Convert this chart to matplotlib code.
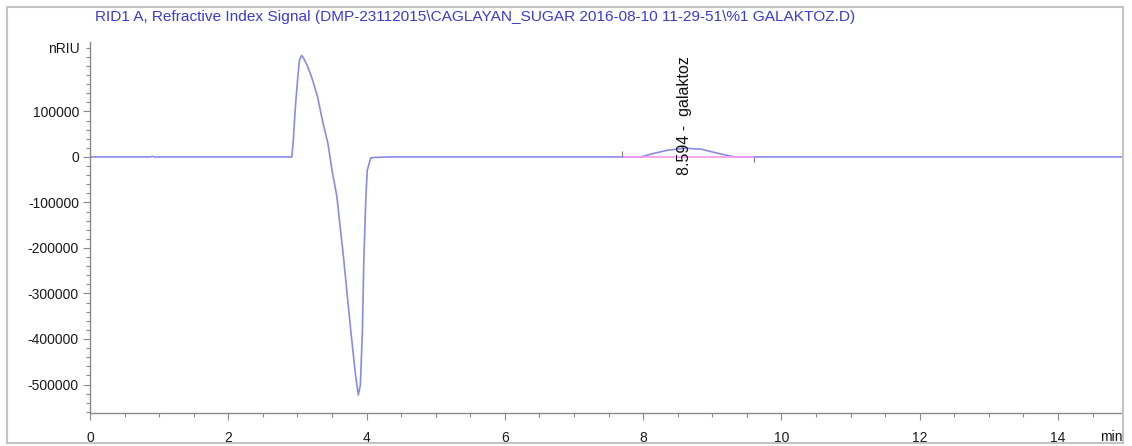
import matplotlib.pyplot as plt
import numpy as np
from matplotlib.ticker import MultipleLocator
from matplotlib.patches import Rectangle

plt.rcParams['font.family'] = ['Liberation Sans', 'DejaVu Sans']
plt.rcParams['axes.unicode_minus'] = False

# RID signal, time in min, signal in nRIU
time = [0.0, 0.87, 0.9, 0.93, 2.0, 2.88, 2.92, 2.94, 2.97, 3.01, 3.03, 3.06, 3.09,
        3.15, 3.21, 3.29, 3.36, 3.44, 3.50, 3.57, 3.67, 3.77, 3.84, 3.88, 3.91,
        3.94, 3.96, 3.99, 4.01, 4.06, 4.13, 4.35, 6.0, 7.97, 8.12, 8.36, 8.62,
        8.84, 9.08, 9.32, 11.0, 15.0]
signal = [0, 0, 1500, 0, 0, 0, 0, 37000, 110000, 184000, 213000, 223000, 217000,
          198000, 173000, 133000, 81000, 30000, -29000, -87000, -226000, -380000,
          -479000, -523000, -501000, -380000, -226000, -87000, -29000, -2000,
          -1000, 0, 0, 0, 6600, 15000, 19000, 17000, 8000, 0, 0, 0]

# integration baseline and event marks of the peak
base_t = [7.69, 9.60]
base_v = [0, 0]
event_t = [7.69, 9.60]
event_lo = [0, -11000]
event_hi = [13000, 0]

peak_rt = 8.594
peak_name = 'galaktoz'

y_major = [-500000, -400000, -300000, -200000, -100000, 0, 100000]

fig = plt.figure(figsize=(11.32, 4.46), dpi=100)
ax = fig.add_axes([0.0795, 0.074, 0.912, 0.832])

ax.plot(time, signal, color='#8a8ae8', lw=1.2)
ax.plot(base_t, base_v, color='#f29af2', lw=1.2)
ax.vlines(event_t, event_lo, event_hi, color='#777777', lw=0.8)

ax.text(peak_rt, -40000, f'{peak_rt:.3f} -  {peak_name}', rotation=90,
        ha='center', va='bottom', fontsize=11.5, color='#111111')

ax.set_xlim(0, 14.93)
ax.set_ylim(-562600, 252700)
ax.set_yticks(y_major)
ax.set_xticks(range(0, 15, 2))
ax.xaxis.set_minor_locator(MultipleLocator(0.5))
ax.yaxis.set_minor_locator(MultipleLocator(20000))

for side in ['top', 'right']:
    ax.spines[side].set_visible(False)
for side in ['left', 'bottom']:
    ax.spines[side].set_color('#8a8a8a')
    ax.spines[side].set_linewidth(1.0)
ax.tick_params(which='major', length=5, width=0.8, color='#8a8a8a',
               labelsize=10, labelcolor='#1a1a1a')
ax.tick_params(axis='y', which='major', pad=3)
ax.tick_params(axis='x', which='major', pad=8)
ax.tick_params(which='minor', length=3, width=0.8, color='#8a8a8a')

ax.text(-0.01, 0.982, 'nRIU', transform=ax.transAxes, ha='right', va='center',
        fontsize=10, color='#1a1a1a')
fig.text(1123 / 1132, 1 - 437 / 446, 'min', ha='right', va='center',
         fontsize=10, color='#1a1a1a')

fig.text(95 / 1132, 1 - 17 / 446,
         r'RID1 A, Refractive Index Signal (DMP-23112015\CAGLAYAN_SUGAR 2016-08-10 11-29-51\%1 GALAKTOZ.D)',
         ha='left', va='center', fontsize=11.1, color='#3a3ad6')

fig.patches.append(Rectangle((7 / 1132, 3 / 446), 1116 / 1132, 436 / 446,
                             transform=fig.transFigure, fill=False,
                             edgecolor='#c4c4c4', lw=1.5))

fig.savefig('out.png', dpi=100)
